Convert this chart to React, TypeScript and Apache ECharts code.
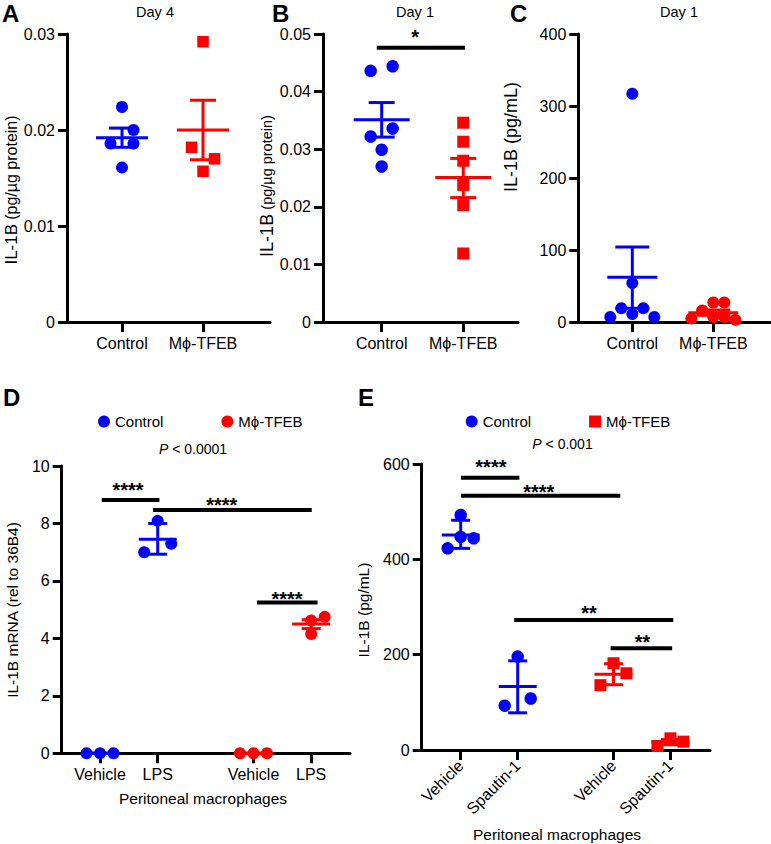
import React, { useEffect, useRef } from 'react';
import * as echarts from 'echarts';

// ---------------- data ----------------
const labelsABC = ['Control', 'Mϕ-TFEB'];
const labelsD = ['Vehicle', 'LPS', 'Vehicle', 'LPS'];
const labelsE = ['Vehicle', 'Spautin-1', 'Vehicle', 'Spautin-1'];

// A — Day 4, IL-1B (pg/µg protein)
const aControl = [0.0224, 0.02, 0.0186, 0.0186, 0.0161];
const aTfeb = [0.0292, 0.0182, 0.017, 0.0157];
const aMean = [0.0192, 0.02];
const aErrLow = [0.0182, 0.0169];
const aErrHigh = [0.0202, 0.0231];
const aTicks = { max: 0.03, interval: 0.01 };

// B — Day 1, IL-1B (pg/µg protein)
const bControl = [0.0444, 0.0436, 0.0336, 0.0322, 0.0299, 0.027];
const bTfeb = [0.0346, 0.0313, 0.028, 0.0238, 0.0203, 0.0119];
const bMean = [0.0351, 0.0251];
const bErrLow = [0.0321, 0.0216];
const bErrHigh = [0.0381, 0.0284];
const bTicks = { max: 0.05, interval: 0.01 };

// C — Day 1, IL-1B (pg/mL)
const cControl = [317, 54, 19, 19, 11, 7, 7];
const cTfeb = [27, 27, 16, 7, 7, 5, 3];
const cMean = [62, 13];
const cErrLow = [19, 9.5];
const cErrHigh = [104, 16.5];
const cTicks = { max: 400, interval: 100 };

// D — IL-1B mRNA (rel to 36B4)
const dControlVehicle = [0, 0, 0];
const dControlLps = [8.09, 7.29, 7.0];
const dTfebVehicle = [0, 0, 0];
const dTfebLps = [4.75, 4.62, 4.15];
const dMean = [0, 7.45, 0, 4.5];
const dErrLow = [0, 6.93, 0, 4.34];
const dErrHigh = [0, 8.0, 0, 4.65];
const dTicks = { max: 10, interval: 2 };

// E — IL-1B (pg/mL)
const eControlVehicle = [493, 447, 444, 423];
const eControlSpautin = [196, 108, 93];
const eTfebVehicle = [182, 161, 136];
const eTfebSpautin = [24.5, 17.5, 8.4];
const eMean = [451, 133, 159, 16.8];
const eErrLow = [423, 78, 137, 11];
const eErrHigh = [482, 187, 181, 22];
const eTicks = { max: 600, interval: 200 };

// significance brackets: [from, to, level, labelX, labelY, text]
const bSig: any[] = [[-0.06, 1.02, 0.0476, 0.41, 0.0503, '*']];
const dSig: any[] = [
  [0.03, 1.03, 8.82, 0.485, 9.34, '****'],
  [0.92, 3.67, 8.47, 2.11, 8.82, '****'],
  [2.72, 3.77, 5.25, 3.24, 5.55, '****'],
];
const eSig: any[] = [
  [0.005, 1.03, 571, 0.53, 605, '****'],
  [0.005, 2.8, 533.5, 1.37, 551, '****'],
  [0.94, 3.73, 272.8, 2.25, 297, '**'],
  [2.63, 3.71, 213.4, 3.19, 237.7, '**'],
];

// ---------------- layout ----------------
const BLUE = '#0000ff';
const RED = '#ff0000';
const FONT = '"Liberation Sans", Arial, Helvetica, sans-serif';

const posABC = [0, 1];
const posD = [0, 1, 2.66, 3.66];
const posE = [0, 1, 2.68, 3.68];

const aSlots = { ctrl: [0, 1, -1, 1, 0], tfeb: [0, -1, 1, 0] };
const bSlots = { ctrl: [1, -1, 1, -1, 0, 0], tfeb: [0, 0, 0, 0, 0, 0] };
const cSlots = { ctrl: [0, 0, -1, 1, 0, -2, 2], tfeb: [0, 1, -1, 0, 1, -2, 2] };
const dSlots = { veh: [-1, 0, 1], ctrlLps: [0, 1, -1], tfebLps: [1, 0, 0] };
const eSlots = { cv: [0, 0, 1, -1], cs: [0, 1, -1], tv: [0, 1, -1], ts: [0, 1, -1] };

type Group = { pos: number; values: number[]; slots: number[]; mean: number; lo: number; hi: number; color: string };
type Panel = {
  left: number; top: number; width: number; height: number;
  xMin: number; xMax: number; yMax: number; yInterval: number;
  positions: number[]; labels: string[]; rotate: number;
  slotPx: number; meanHalf: number; capHalf: number; symbolSize: number; tfebSymbol: string;
  groups: Group[]; sigs: any[];
};

const panels: Panel[] = [
  {
    left: 67, top: 34, width: 203, height: 288, xMin: -0.679, xMax: 1.827,
    yMax: aTicks.max, yInterval: aTicks.interval, positions: posABC, labels: labelsABC, rotate: 0,
    slotPx: 11.5, meanHalf: 26, capHalf: 13, symbolSize: 12, tfebSymbol: 'rect',
    groups: [
      { pos: posABC[0], values: aControl, slots: aSlots.ctrl, mean: aMean[0], lo: aErrLow[0], hi: aErrHigh[0], color: BLUE },
      { pos: posABC[1], values: aTfeb, slots: aSlots.tfeb, mean: aMean[1], lo: aErrLow[1], hi: aErrHigh[1], color: RED },
    ],
    sigs: [],
  },
  {
    left: 323, top: 34, width: 195, height: 288, xMin: -0.719, xMax: 1.671,
    yMax: bTicks.max, yInterval: bTicks.interval, positions: posABC, labels: labelsABC, rotate: 0,
    slotPx: 11, meanHalf: 28, capHalf: 13, symbolSize: 12.5, tfebSymbol: 'rect',
    groups: [
      { pos: posABC[0], values: bControl, slots: bSlots.ctrl, mean: bMean[0], lo: bErrLow[0], hi: bErrHigh[0], color: BLUE },
      { pos: posABC[1], values: bTfeb, slots: bSlots.tfeb, mean: bMean[1], lo: bErrLow[1], hi: bErrHigh[1], color: RED },
    ],
    sigs: bSig,
  },
  {
    left: 578.3, top: 34, width: 191.7, height: 288, xMin: -0.667, xMax: 1.7,
    yMax: cTicks.max, yInterval: cTicks.interval, positions: posABC, labels: labelsABC, rotate: 0,
    slotPx: 11, meanHalf: 25, capHalf: 17, symbolSize: 12, tfebSymbol: 'circle',
    groups: [
      { pos: posABC[0], values: cControl, slots: cSlots.ctrl, mean: cMean[0], lo: cErrLow[0], hi: cErrHigh[0], color: BLUE },
      { pos: posABC[1], values: cTfeb, slots: cSlots.tfeb, mean: cMean[1], lo: cErrLow[1], hi: cErrHigh[1], color: RED },
    ],
    sigs: [],
  },
  {
    left: 61.7, top: 466, width: 288.3, height: 287.3, xMin: -0.664, xMax: 4.333,
    yMax: dTicks.max, yInterval: dTicks.interval, positions: posD, labels: labelsD, rotate: 0,
    slotPx: 13.5, meanHalf: 19, capHalf: 9.5, symbolSize: 12, tfebSymbol: 'circle',
    groups: [
      { pos: posD[0], values: dControlVehicle, slots: dSlots.veh, mean: dMean[0], lo: dErrLow[0], hi: dErrHigh[0], color: BLUE },
      { pos: posD[1], values: dControlLps, slots: dSlots.ctrlLps, mean: dMean[1], lo: dErrLow[1], hi: dErrHigh[1], color: BLUE },
      { pos: posD[2], values: dTfebVehicle, slots: dSlots.veh, mean: dMean[2], lo: dErrLow[2], hi: dErrHigh[2], color: RED },
      { pos: posD[3], values: dTfebLps, slots: dSlots.tfebLps, mean: dMean[3], lo: dErrLow[3], hi: dErrHigh[3], color: RED },
    ],
    sigs: dSig,
  },
  {
    left: 421.7, top: 464, width: 288.3, height: 286, xMin: -0.684, xMax: 4.374,
    yMax: eTicks.max, yInterval: eTicks.interval, positions: posE, labels: labelsE, rotate: 45,
    slotPx: 13, meanHalf: 19, capHalf: 9.5, symbolSize: 12.5, tfebSymbol: 'rect',
    groups: [
      { pos: posE[0], values: eControlVehicle, slots: eSlots.cv, mean: eMean[0], lo: eErrLow[0], hi: eErrHigh[0], color: BLUE },
      { pos: posE[1], values: eControlSpautin, slots: eSlots.cs, mean: eMean[1], lo: eErrLow[1], hi: eErrHigh[1], color: BLUE },
      { pos: posE[2], values: eTfebVehicle, slots: eSlots.tv, mean: eMean[2], lo: eErrLow[2], hi: eErrHigh[2], color: RED },
      { pos: posE[3], values: eTfebSpautin, slots: eSlots.ts, mean: eMean[3], lo: eErrLow[3], hi: eErrHigh[3], color: RED },
    ],
    sigs: eSig,
  },
];

function buildOption() {
  const grid: any[] = [];
  const xAxis: any[] = [];
  const yAxis: any[] = [];
  const series: any[] = [];

  panels.forEach((p, i) => {
    const pxPerUnit = p.width / (p.xMax - p.xMin);
    const slotUnit = p.slotPx / pxPerUnit;
    grid.push({ left: p.left, top: p.top, width: p.width, height: p.height, containLabel: false });
    xAxis.push({
      type: 'value', gridIndex: i, min: p.xMin, max: p.xMax,
      splitLine: { show: false },
      axisLine: { show: true, onZero: false, lineStyle: { color: '#000', width: 3 } },
      axisTick: { show: true, customValues: p.positions, length: 10, lineStyle: { color: '#000', width: 3 } },
      axisLabel: {
        show: true, customValues: p.positions, margin: 13, fontSize: 16, color: '#000', fontFamily: FONT,
        rotate: p.rotate,
        formatter: (v: number) => {
          const k = p.positions.findIndex((q) => Math.abs(q - v) < 1e-6);
          return k >= 0 ? p.labels[k] : '';
        },
      },
    });
    yAxis.push({
      type: 'value', gridIndex: i, min: 0, max: p.yMax, interval: p.yInterval,
      splitLine: { show: false },
      axisLine: { show: true, onZero: false, lineStyle: { color: '#000', width: 3 } },
      axisTick: { show: true, length: 9, lineStyle: { color: '#000', width: 3 } },
      axisLabel: { show: true, margin: 12, fontSize: 16, color: '#000', fontFamily: FONT },
    });

    const ctrlPts: number[][] = [];
    const tfebPts: number[][] = [];
    p.groups.forEach((g) => {
      g.values.forEach((v, k) => {
        const pt = [g.pos + g.slots[k] * slotUnit, v];
        (g.color === BLUE ? ctrlPts : tfebPts).push(pt);
      });
    });
    series.push({
      name: 'Control', type: 'scatter', xAxisIndex: i, yAxisIndex: i, data: ctrlPts,
      symbol: 'circle', symbolSize: p.symbolSize, itemStyle: { color: BLUE, opacity: 1 }, z: 3, silent: true,
    });
    series.push({
      name: 'Mϕ-TFEB', type: 'scatter', xAxisIndex: i, yAxisIndex: i, data: tfebPts,
      symbol: p.tfebSymbol, symbolSize: p.tfebSymbol === 'rect' ? p.symbolSize - 0.5 : p.symbolSize,
      itemStyle: { color: RED, opacity: 1 }, z: 3, silent: true,
    });

    // mean ± error bars
    series.push({
      type: 'custom', xAxisIndex: i, yAxisIndex: i, z: 5, silent: true, clip: false,
      encode: { x: 0, y: [1, 2, 3] },
      data: p.groups.map((g) => [g.pos, g.mean, g.lo, g.hi]),
      renderItem: (params: any, api: any) => {
        const g = p.groups[params.dataIndex];
        const c = api.coord([api.value(0), api.value(1)]);
        const cl = api.coord([api.value(0), api.value(2)]);
        const ch = api.coord([api.value(0), api.value(3)]);
        const st = { stroke: g.color, lineWidth: 3, fill: 'none' };
        return {
          type: 'group',
          children: [
            { type: 'line', shape: { x1: c[0], y1: cl[1], x2: c[0], y2: ch[1] }, style: st },
            { type: 'line', shape: { x1: c[0] - p.meanHalf, y1: c[1], x2: c[0] + p.meanHalf, y2: c[1] }, style: st },
            { type: 'line', shape: { x1: c[0] - p.capHalf, y1: cl[1], x2: c[0] + p.capHalf, y2: cl[1] }, style: st },
            { type: 'line', shape: { x1: c[0] - p.capHalf, y1: ch[1], x2: c[0] + p.capHalf, y2: ch[1] }, style: st },
          ],
        };
      },
    });

    if (p.sigs.length) {
      series.push({
        type: 'custom', xAxisIndex: i, yAxisIndex: i, z: 6, silent: true, clip: false,
        encode: { x: [0, 1], y: 2 },
        data: p.sigs.map((s) => [s[0], s[1], s[2], s[3], s[4]]),
        renderItem: (params: any, api: any) => {
          const s = p.sigs[params.dataIndex];
          const p1 = api.coord([s[0], s[2]]);
          const p2 = api.coord([s[1], s[2]]);
          const lp = api.coord([s[3], s[4]]);
          return {
            type: 'group',
            children: [
              { type: 'rect', shape: { x: p1[0], y: p1[1] - 2, width: p2[0] - p1[0], height: 4 }, style: { fill: '#000' } },
              {
                type: 'text', x: lp[0], y: lp[1] + 5,
                style: { text: s[5], fill: '#000', font: `bold 20px ${FONT}`, align: 'center', verticalAlign: 'middle' },
              },
            ],
          };
        },
      });
    }
  });

  const txt = (text: string, x: number, y: number, size: number, extra: any = {}) => ({
    type: 'text', x, y, silent: true,
    style: { text, fill: '#000', font: `${size}px ${FONT}`, align: 'center', verticalAlign: 'middle', ...extra },
  });
  const letter = (text: string, x: number, y: number) => ({
    type: 'text', x, y, silent: true,
    style: { text, fill: '#000', font: `bold 24px ${FONT}`, align: 'left', verticalAlign: 'top' },
  });
  const ylab = (x: number, y: number, text: string, rich?: any, size = 15) => ({
    type: 'text', x, y, rotation: Math.PI / 2, silent: true,
    style: { text, fill: '#000', font: `${size}px ${FONT}`, align: 'center', verticalAlign: 'middle', rich },
  });

  const graphic: any[] = [
    letter('A', 2, 1), letter('B', 272, 1), letter('C', 510, 1), letter('D', 3, 385), letter('E', 358, 385),
    txt('Day 4', 155, 12, 14.5), txt('Day 1', 415, 12, 14.5), txt('Day 1', 679, 12, 14.5),
    txt('{i|P} < 0.0001', 193, 449, 14, { rich: { i: { fontStyle: 'italic', fontSize: 14, fontFamily: FONT } } }),
    txt('{i|P} < 0.001', 562.5, 443.5, 14, { rich: { i: { fontStyle: 'italic', fontSize: 14, fontFamily: FONT } } }),
    ylab(11, 190, '{a|IL-1B} {b|(pg/µg protein)}', { a: { fontSize: 17, fontFamily: FONT }, b: { fontSize: 16, fontFamily: FONT } }),
    ylab(267, 186, '{a|IL-1B} {b|(pg/µg protein)}', { a: { fontSize: 18, fontFamily: FONT }, b: { fontSize: 14.5, fontFamily: FONT } }),
    ylab(511, 137, 'IL-1B (pg/mL)', undefined, 18),
    ylab(12.7, 610, 'IL-1B mRNA (rel to 36B4)', undefined, 15.5),
    ylab(363.3, 610, 'IL-1B (pg/mL)', undefined, 15.5),
    txt('Peritoneal macrophages', 203, 798, 15.5),
    txt('Peritoneal macrophages', 557, 834, 15.5),
  ];

  const legendBase = {
    orient: 'horizontal', itemWidth: 12, itemHeight: 12, itemGap: 58, padding: 0, selectedMode: false,
    textStyle: { fontSize: 15, color: '#000', fontFamily: FONT },
  };

  return {
    animation: false,
    backgroundColor: '#fff',
    textStyle: { fontFamily: FONT },
    grid, xAxis, yAxis, series, graphic,
    legend: [
      { ...legendBase, left: 98, top: 414, data: [{ name: 'Control', icon: 'circle' }, { name: 'Mϕ-TFEB', icon: 'circle' }] },
      { ...legendBase, left: 465.7, top: 414, data: [{ name: 'Control', icon: 'circle' }, { name: 'Mϕ-TFEB', icon: 'rect' }] },
    ],
  };
}

export default function App() {
  const ref = useRef<HTMLDivElement>(null);
  useEffect(() => {
    if (!ref.current) return;
    const chart = echarts.init(ref.current, undefined, { renderer: 'svg' });
    chart.setOption(buildOption() as any);
    return () => chart.dispose();
  }, []);
  return (
    <div
      ref={ref}
      style={{ position: 'fixed', left: 0, top: 0, width: 771, height: 844, background: '#fff' }}
    />
  );
}
